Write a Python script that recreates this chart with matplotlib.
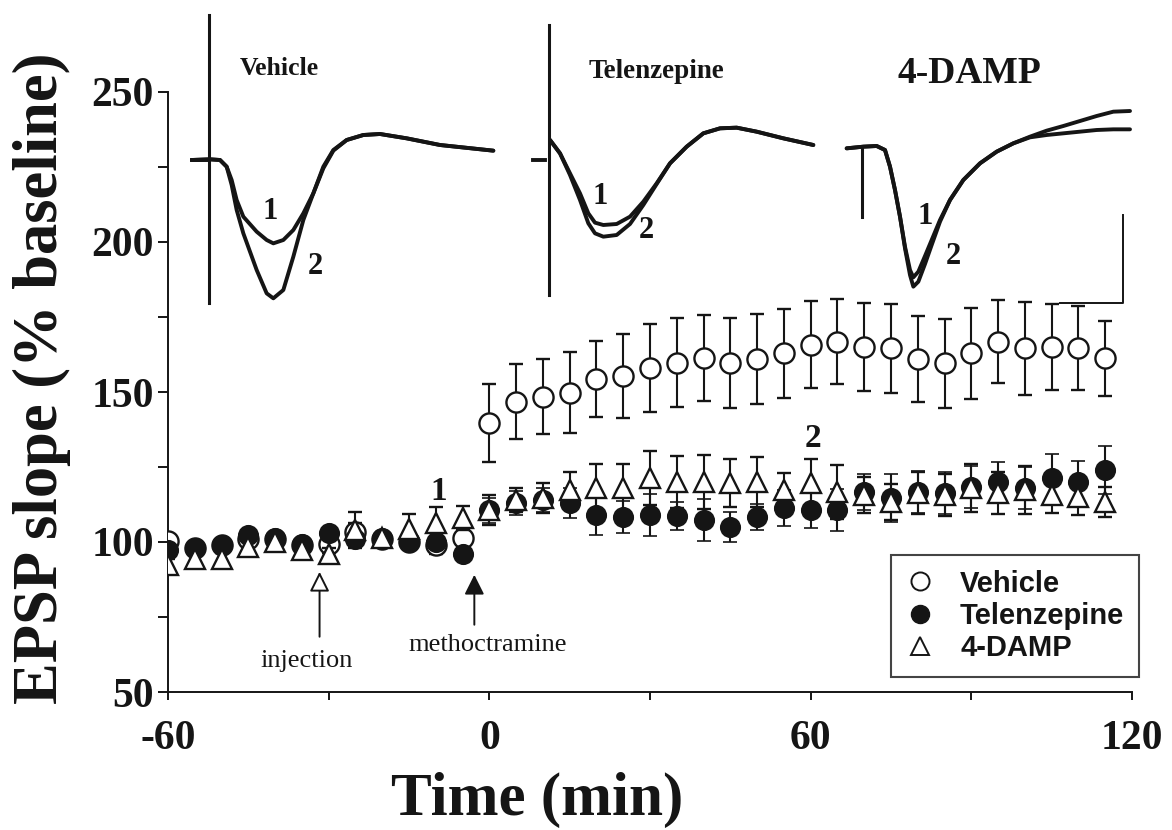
import matplotlib
matplotlib.use('Agg')
import matplotlib.pyplot as plt
from matplotlib.lines import Line2D
from matplotlib.patches import FancyArrowPatch
from matplotlib.ticker import MultipleLocator

plt.rcParams['axes.unicode_minus'] = False

# ---------------- data ----------------
time_min = [-60, -55, -50, -45, -40, -35, -30, -25, -20, -15, -10, -5,
            0, 5, 10, 15, 20, 25, 30, 35, 40, 45, 50, 55,
            60, 65, 70, 75, 80, 85, 90, 95, 100, 105, 110, 115]

vehicle_mean = [100.5, 98, 99, 101, 101, 99, 99.5, 103.5, 101, 100, 99, 101.5,
                139.6, 146.8, 148.4, 149.8, 154.3, 155.3, 157.9, 159.8, 161.2, 159.6, 161.0, 162.9,
                165.7, 166.8, 165.0, 164.5, 160.9, 159.6, 162.9, 166.8, 164.5, 165.0, 164.5, 161.2]
vehicle_sem = [2, 2, 2, 2, 2, 2, 3, 3, 2, 2, 3, 3,
               13, 12.5, 12.5, 13.5, 12.6, 14, 14.7, 14.8, 14.3, 15, 15, 14.8,
               14.5, 14.3, 14.7, 14.7, 14.3, 14.8, 15.1, 13.9, 15.5, 14.4, 14, 12.5]

telenzepine_mean = [97.5, 98, 99, 102.5, 101.5, 99.5, 103, 101, 101.5, 100.5, 100, 96,
                    110.5, 113, 114, 113, 109, 108.4, 109, 108.7, 107.3, 105, 108.4, 111.2,
                    110.7, 110.7, 116.8, 114.6, 116.8, 116.2, 118.4, 120, 118, 121.3, 120, 124]
telenzepine_sem = [2, 2, 2, 2, 2, 2, 2, 2, 2, 2, 2, 2,
                   4, 4, 4, 5, 6.7, 5.4, 7, 4.7, 7, 5, 4.4, 6,
                   6, 7, 6, 8, 7, 7, 7, 6.5, 7, 8, 7, 8]

damp_mean = [92.5, 94.5, 94.5, 98.5, 100, 97.5, 96, 104, 101.5, 104.5, 106.5, 108,
             110.7, 114, 114.6, 117.3, 118, 118, 121.3, 120, 120, 119.6, 120, 117.3,
             119.5, 116.8, 115.7, 113.4, 116.3, 115.7, 118, 116.2, 117.3, 115.7, 115, 113.4]
damp_sem = [2, 2, 2, 2, 2, 2, 2, 6, 2, 5, 5, 4,
            5, 4, 5, 6, 8, 8, 9, 8.7, 9, 8, 8.4, 5.6,
            8, 9, 6, 6, 7, 7, 8, 7, 8, 6, 6, 5]

series_labels = ['Vehicle', 'Telenzepine', '4-DAMP']
x_ticks = [-60, 0, 60, 120]
y_ticks = [50, 100, 150, 200, 250]

# event markers (time in min)
injection_time = -31.7
methoctramine_time = -2.8

veh_t = [5, 60, 90, 110, 125, 140, 160, 200, 230, 250, 280, 310, 340, 370, 400, 430, 470, 520, 570, 650, 750, 910]
veh_1 = [480, 478, 480, 500, 540, 600, 650, 695, 720, 730, 720, 690, 640, 580, 500, 450, 420, 405, 402, 415, 435, 452]
veh_2 = [480, 478, 480, 500, 555, 630, 700, 810, 880, 895, 870, 770, 660, 580, 505, 452, 420, 405, 402, 415, 435, 452]

tel_t = [60, 90, 120, 150, 175, 195, 220, 260, 300, 340, 380, 420, 470, 520, 570, 620, 680, 760, 850]
tel_1 = [420, 460, 520, 580, 640, 668, 675, 672, 650, 605, 550, 490, 440, 400, 385, 383, 395, 415, 435]
tel_2 = [420, 460, 525, 600, 670, 700, 710, 705, 672, 615, 552, 490, 440, 400, 385, 383, 395, 415, 435]

damp_t = [50, 100, 140, 165, 180, 195, 210, 225, 240, 250, 265, 285, 305, 330, 360, 400, 450, 500, 550, 600, 650, 700, 750, 800, 850, 900]
damp_1 = [325, 320, 318, 330, 380, 450, 530, 620, 690, 712, 695, 648, 600, 540, 480, 420, 370, 335, 310, 290, 272, 258, 243, 228, 215, 213]
damp_2 = [325, 320, 318, 330, 380, 450, 530, 625, 705, 740, 725, 672, 615, 545, 480, 420, 370, 335, 310, 292, 285, 280, 275, 270, 268, 268]

# ---------------- figure ----------------
W, H = 1172, 830
fig = plt.figure(figsize=(W / 100, H / 100), dpi=100)
ax = fig.add_axes([168 / W, 1 - 692 / H, (1132 - 168) / W, 600 / H])

serif = 'Liberation Serif'
sans = 'Liberation Sans'
ink = '#151515'

eb_kw = dict(elinewidth=1.5, capsize=5, capthick=1.6, ecolor=ink, linestyle='none')
ax.errorbar(time_min, vehicle_mean, yerr=vehicle_sem, marker='o', ms=14.5, mfc='white',
            mec=ink, mew=1.7, color=ink, zorder=3, **eb_kw)
ax.errorbar(time_min, telenzepine_mean, yerr=telenzepine_sem, marker='o', ms=14,
            mfc=ink, mec=ink, mew=1.2, color=ink, zorder=4, **eb_kw)
ax.errorbar(time_min, damp_mean, yerr=damp_sem, marker='^', ms=14.5, mfc='white',
            mec=ink, mew=1.7, color=ink, zorder=5, **eb_kw)

ax.set_xlim(-60, 120)
ax.set_ylim(50, 250)
ax.set_xticks(x_ticks)
ax.xaxis.set_minor_locator(MultipleLocator(30))
ax.set_yticks(y_ticks)
ax.yaxis.set_minor_locator(MultipleLocator(25))
for s in ['top', 'right']:
    ax.spines[s].set_visible(False)
for s in ['left', 'bottom']:
    ax.spines[s].set_linewidth(1.4)
    ax.spines[s].set_color(ink)
ax.tick_params(axis='x', which='both', direction='out', length=6, width=1.4, pad=14, colors=ink)
ax.tick_params(axis='y', which='both', direction='out', length=7, width=1.4, pad=3, colors=ink)
for lab in ax.get_xticklabels() + ax.get_yticklabels():
    lab.set_fontfamily(serif)
    lab.set_fontweight('bold')
    lab.set_fontsize(30)

ax.set_xlabel('Time (min)', fontfamily=serif, fontweight='bold', fontsize=44, color=ink)
ax.xaxis.label.set_va('center')
ax.xaxis.set_label_coords((537 - 168) / 964, -(800 - 692) / 600)
ax.set_ylabel('EPSP slope (% baseline)', fontfamily=serif, fontweight='bold', fontsize=45, color=ink)
ax.yaxis.label.set_va('center')
ax.yaxis.set_label_coords(-(168 - 42) / 964, (692 - 378) / 600)

# numbered time points
ax.text(-9.4, 117, '1', fontfamily=serif, fontweight='bold', fontsize=24, ha='center', va='center', color=ink)
ax.text(60.5, 134.5, '2', fontfamily=serif, fontweight='bold', fontsize=24, ha='center', va='center', color=ink)

# event arrows
ax.add_patch(FancyArrowPatch((injection_time, 67.5), (injection_time, 91), arrowstyle='-|>',
                             mutation_scale=30, lw=1.4, color=ink, fc='white', zorder=6))
ax.add_patch(FancyArrowPatch((methoctramine_time, 71.5), (methoctramine_time, 90), arrowstyle='-|>',
                             mutation_scale=30, lw=1.4, color=ink, fc=ink, zorder=6))
ax.text(-34.1, 60.2, 'injection', fontfamily=serif, fontsize=19, ha='center', va='center', color=ink)
ax.text(-0.4, 65.7, 'methoctramine', fontfamily=serif, fontsize=19, ha='center', va='center', color=ink)

# legend
handles = [Line2D([], [], ls='none', marker='o', ms=13, mfc='white', mec=ink, mew=1.4),
           Line2D([], [], ls='none', marker='o', ms=13, mfc=ink, mec=ink),
           Line2D([], [], ls='none', marker='^', ms=13, mfc='white', mec=ink, mew=1.4)]
leg = ax.legend(handles, series_labels, loc='upper left', bbox_to_anchor=(891 / W, 1 - 555 / H),
                bbox_transform=fig.transFigure, frameon=True, fancybox=False, borderaxespad=0,
                prop={'family': sans, 'weight': 'bold', 'size': 21}, handlelength=1.0,
                handletextpad=0.87, labelspacing=0.15, borderpad=0.5)
leg.get_frame().set_edgecolor(ink)
leg.get_frame().set_linewidth(1.5)
for t in leg.get_texts():
    t.set_color(ink)

# ---------------- example trace insets ----------------
def inset(x0, y0, w, h):
    a = fig.add_axes([x0 / W, 1 - (y0 + h) / H, w / W, h / H])
    a.set_xlim(0, 3 * w)
    a.set_ylim(3 * h, 0)
    a.axis('off')
    a.patch.set_alpha(0)
    return a

tr_kw = dict(color=ink, lw=2.8, solid_joinstyle='round', solid_capstyle='round')
lab_kw = dict(fontfamily=serif, fontweight='bold', color=ink)

a1 = inset(190, 0, 340, 310)
a1.plot([58, 58], [45, 910], color=ink, lw=2.2)
a1.plot([5, 58], [480, 480], color=ink, lw=2.8)
a1.plot(veh_t, veh_1, **tr_kw)
a1.plot(veh_t, veh_2, **tr_kw)
a1.text(150, 205, 'Vehicle', fontsize=18.5, ha='left', va='center', **lab_kw)
a1.text(240, 635, '1', fontsize=22, ha='center', va='center', **lab_kw)
a1.text(375, 800, '2', fontsize=22, ha='center', va='center', **lab_kw)

a2 = inset(530, 0, 300, 310)
a2.plot([58, 58], [75, 885], color=ink, lw=2.2)
a2.plot([10, 45], [480, 480], color=ink, lw=2.8)
a2.plot(tel_t, tel_1, **tr_kw)
a2.plot(tel_t, tel_2, **tr_kw)
a2.text(175, 215, 'Telenzepine', fontsize=19.5, ha='left', va='center', **lab_kw)
a2.text(210, 590, '1', fontsize=22, ha='center', va='center', **lab_kw)
a2.text(350, 690, '2', fontsize=22, ha='center', va='center', **lab_kw)

a3 = inset(830, 40, 340, 280)
a3.plot([97, 97], [320, 530], color=ink, lw=2.2)
a3.plot(damp_t, damp_1, **tr_kw)
a3.plot(damp_t, damp_2, **tr_kw)
a3.plot([690, 880, 880], [790, 790, 525], color=ink, lw=1.4)
a3.text(418, 100, '4-DAMP', fontsize=27, ha='center', va='center', **lab_kw)
a3.text(285, 530, '1', fontsize=22, ha='center', va='center', **lab_kw)
a3.text(370, 650, '2', fontsize=22, ha='center', va='center', **lab_kw)

fig.savefig('out.png', dpi=100)
